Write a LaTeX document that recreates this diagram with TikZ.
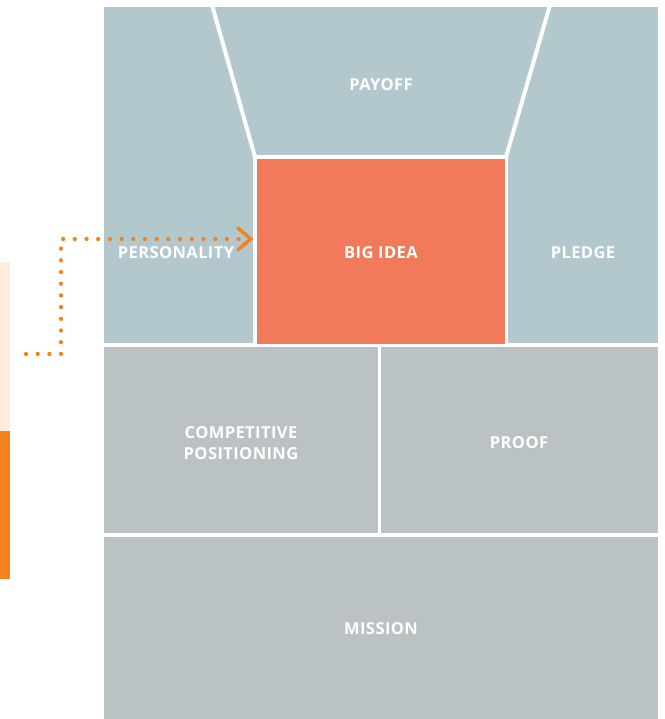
\documentclass[tikz,border=0pt]{standalone}
\usepackage{fontspec}
\setmainfont{Open Sans}[LetterSpace=2.5]
\usetikzlibrary{arrows.meta}

\definecolor{slate}{HTML}{B3C8CD}
\definecolor{stone}{HTML}{BAC2C3}
\definecolor{salmon}{HTML}{F07A5A}
\definecolor{tang}{HTML}{F58220}
\definecolor{peach}{HTML}{FFEEE0}

\tikzset{
	label/.style={text=white, font=\bfseries\fontsize{16.5}{21}\selectfont, align=center},
	gap/.style={white, line width=4pt},
	dots/.style={tang, line width=4.3pt, line cap=round, dash pattern=on 0pt off 11.7pt}
}

\begin{document}
\begin{tikzpicture}[x=1pt, y=-1pt]
			\useasboundingbox (0,0) rectangle (664,719);

			% side bar
			\fill[peach] (0,262) rectangle (10,431);
			\fill[tang] (0,431) rectangle (10,579);

			% top block
			\fill[slate] (104,7) rectangle (658,343);
			\draw[gap] (212,5) -- (255,157) -- (255,345);
			\draw[gap] (550,5) -- (506,157) -- (506,345);
			\draw[gap] (255,157) -- (506,157);
			\node[fill=salmon, minimum width=248pt, minimum height=185pt, inner sep=0pt] (bigidea) at (381,251.5) {};

			% lower blocks
			\fill[stone] (104,347) rectangle (378,533);
			\fill[stone] (381,347) rectangle (658,533);
			\fill[stone] (104,537) rectangle (658,719);

			\node[label] (payoff) at (381,85) {PAYOFF};
			\node[label] (personality) at (176,253) {PERSONALITY};
			\node[label] at ([yshift=-1pt]bigidea) {BIG IDEA};
			\node[label] (pledge) at (583,253) {PLEDGE};
			\node[label] (competitive) at (241,443) {COMPETITIVE\\POSITIONING};
			\node[label] (proof) at (519,443) {PROOF};
			\node[label] (mission) at (381,629) {MISSION};

			% dotted pointer
			\coordinate (start) at (26,354);
			\coordinate (bend) at (61,239);
			\draw[dots] (start) -- (start -| bend) -- (bend) -- ([xshift=-14pt]bigidea.west |- bend);
			\draw[tang, line width=3.5pt, line cap=round] ([xshift=-19pt,yshift=-11pt]bigidea.west |- bend) -- ([xshift=-6pt]bigidea.west |- bend) -- ([xshift=-19pt,yshift=11pt]bigidea.west |- bend);

		\end{tikzpicture}
\end{document}
